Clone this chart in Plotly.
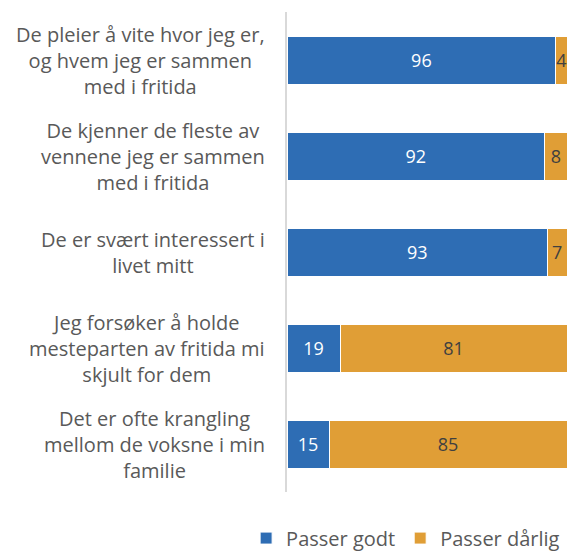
import plotly.graph_objects as go

categories = [
    "De pleier å vite hvor jeg er,<br>og hvem jeg er sammen<br>med i fritida",
    "De kjenner de fleste av<br>vennene jeg er sammen<br>med i fritida",
    "De er svært interessert i<br>livet mitt",
    "Jeg forsøker å holde<br>mesteparten av fritida mi<br>skjult for dem",
    "Det er ofte krangling<br>mellom de voksne i min<br>familie",
]
passer_godt = [96, 92, 93, 19, 15]
passer_darlig = [4, 8, 7, 81, 85]
series_names = ["Passer godt", "Passer dårlig"]

FONT = "Open Sans"
BLUE = "#2E6DB4"
ORANGE = "#E09E36"
TXT = "#595959"

fig = go.Figure()
fig.add_trace(go.Bar(
    y=categories, x=passer_godt, name=series_names[0], orientation="h",
    marker=dict(color=BLUE, line=dict(color="white", width=1)),
    text=[str(v) for v in passer_godt], textposition="inside",
    insidetextanchor="middle", constraintext="none",
    textfont=dict(color="white", size=18, family=FONT),
    width=0.5,
))
fig.add_trace(go.Bar(
    y=categories, x=passer_darlig, name=series_names[1], orientation="h",
    marker=dict(color=ORANGE, line=dict(color="white", width=1)),
    text=[str(v) for v in passer_darlig], textposition="inside",
    insidetextanchor="middle", constraintext="none",
    textfont=dict(color="#404040", size=18, family=FONT),
    width=0.5,
))

for c in categories:
    fig.add_annotation(
        x=-0.071, xref="paper", y=c, yref="y", text=c, showarrow=False,
        xanchor="right", yanchor="middle", align="center",
        font=dict(family=FONT, size=20, color=TXT),
    )

fig.update_layout(
    barmode="stack",
    width=567, height=551,
    margin=dict(l=287, r=0, t=12, b=59, autoexpand=False),
    plot_bgcolor="white", paper_bgcolor="white",
    font=dict(family=FONT, color=TXT),
    xaxis=dict(range=[0, 100], showgrid=False, zeroline=False,
               showticklabels=False, showline=False, fixedrange=True),
    yaxis=dict(autorange="reversed", showticklabels=False, showgrid=False,
               showline=True, linecolor="#D9D9D9", linewidth=2, ticks="",
               zeroline=False),
    legend=dict(orientation="h", x=-0.146, xanchor="left",
                y=-0.096, yanchor="middle",
                traceorder="normal",
                font=dict(family=FONT, size=20, color=TXT),
                itemwidth=30),
    showlegend=True,
)

fig.write_html("out.html", config={"displayModeBar": False},
               post_script="document.body.style.margin='0';")
